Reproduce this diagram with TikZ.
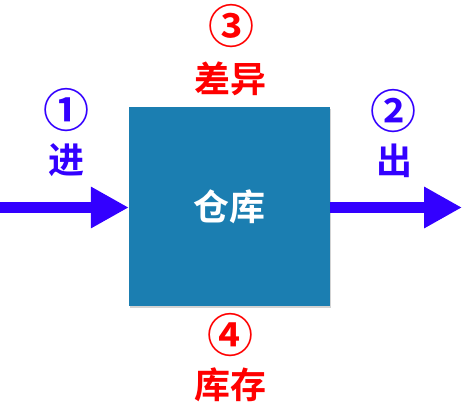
\documentclass[tikz,border=0pt]{standalone}
\usepackage{fontspec}
\usepackage{tikz}
\usetikzlibrary{arrows.meta}
\usetikzlibrary{shadows}
\usetikzlibrary{positioning}
\newfontfamily\cjk{Noto Sans CJK SC}[BoldFont={Noto Sans CJK SC Bold}]
\definecolor{boxteal}{RGB}{27,126,177}
\definecolor{flowblue}{RGB}{51,0,255}
\definecolor{notered}{RGB}{255,0,0}
\tikzset{flow/.style = {draw = flowblue, line width = 11pt,
                        -{Triangle[length = 38pt, width = 39pt]}}}
\tikzset{label/.style = {inner sep = 0, font = \cjk\bfseries\fontsize{36}{40}\selectfont}}
\tikzset{num/.style = {inner sep = 0, font = \cjk\bfseries\fontsize{46}{50}\selectfont}}
\tikzset{store/.style = {fill = boxteal, minimum width = 201pt, minimum height = 199pt,
                         inner sep = 0, text = white,
                         drop shadow = {opacity = 0.35, shadow xshift = 1pt, shadow yshift = -2pt},
                         font = \cjk\bfseries\fontsize{36}{40}\selectfont}}

\begin{document}
\begin{tikzpicture}[x = 1pt, y = 1pt]
      \useasboundingbox (0, 0) rectangle (462, 416);
      \node (wh) at (229.5, 209.5) [store] {仓库};
      \coordinate (in) at (0, 208.5);
      \coordinate (out) at (462, 208.5);
      \draw [flow] (in) -- (wh.west |- in);
      \draw [flow] (wh.east |- out) -- (out);

      \node (n1) at (66, 306) [num, text = flowblue] {①};
      \node (jin) at (66, 256) [label, text = flowblue] {进};
      \node (n2) at (393, 305) [num, text = flowblue] {②};
      \node (chu) at (394, 255) [label, text = flowblue] {出};
      \node (n3) at (231, 390) [num, text = notered] {③};
      \node (cha) at (230, 337) [label, text = notered] {差异};
      \node (n4) at (230, 81) [num, text = notered] {④};
      \node (kc) at (230, 31) [label, text = notered] {库存};
    \end{tikzpicture}
\end{document}
